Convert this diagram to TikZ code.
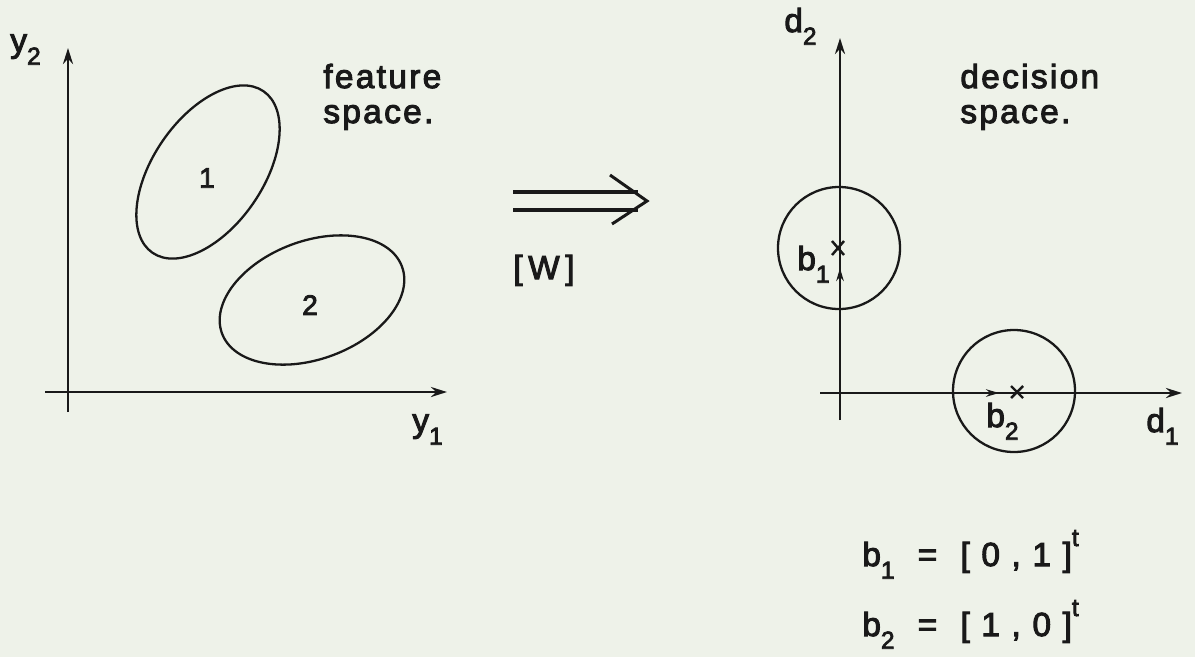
\documentclass[tikz,border=0pt]{standalone}
\usepackage{fontspec}
\setmainfont{Liberation Sans}[LetterSpace=7,FakeBold=3]
\usetikzlibrary{arrows.meta}
\definecolor{paper}{RGB}{238,242,233}
\definecolor{ink}{RGB}{25,25,25}
\newcommand{\lsub}[1]{\raisebox{-0.38em}{\fontsize{14pt}{14pt}\selectfont #1}}
\newcommand{\lsup}[1]{\raisebox{0.6em}{\fontsize{14pt}{14pt}\selectfont #1}}
\begin{document}
\begin{tikzpicture}[x=0.02cm,y=-0.02cm,
  axis/.style={ink,line width=1.5pt,-{Stealth[length=0.32cm,width=0.2cm]}},
  blob/.style={ink,line width=1.3pt},
  vec/.style={ink,line width=1.2pt,-{Stealth[length=0.26cm,width=0.15cm]}},
  lab/.style={ink,inner sep=0pt,anchor=base west,font=\fontsize{19pt}{19pt}\selectfont},
  num/.style={ink,inner sep=0pt,font=\fontsize{16pt}{16pt}\selectfont},
  cross/.style={ink,line width=1.4pt}]
\fill[paper] (0,0) rectangle (1195,657);
\useasboundingbox (0,0) rectangle (1195,657);
% left axes
\coordinate (O1v) at (68,412);
\coordinate (T1v) at (68,48);
\coordinate (O1h) at (45,392);
\coordinate (T1h) at (447,392);
\draw[axis] (O1v) -- (T1v);
\draw[axis] (O1h) -- (T1h);
\node[lab] (y2) at (10,52) {y\lsub{2}};
\node[lab] (y1) at (412,432) {y\lsub{1}};
% ellipses
\coordinate (E1) at (208,172);
\coordinate (E2) at (312,300);
\draw[blob,rotate around={55.5:(E1)}] (E1) ellipse [x radius=98, y radius=55];
\draw[blob,rotate around={20.4:(E2)}] (E2) ellipse [x radius=96, y radius=59];
\node[num] (n1) at (207,178) {1};
\node[num] (n2) at (310,305) {2};
\node[lab] (fs1) at (323,88) {feature};
\node[lab] (fs2) at (323,123) {space.};
% transform arrow
\coordinate (A1s) at (513,192);
\coordinate (A1e) at (638,192);
\coordinate (A2s) at (513,210);
\coordinate (A2e) at (638,210);
\coordinate (Ctop) at (610,175);
\coordinate (Ctip) at (647,201);
\coordinate (Cbot) at (612,224);
\draw[ink,line width=2.3pt] (A1s) -- (A1e);
\draw[ink,line width=2.3pt] (A2s) -- (A2e);
\draw[ink,line width=1.7pt,line join=miter] (Ctop) -- (Ctip) -- (Cbot);
\node[lab] (W) at (513,279) {[\,W\,]};
% right axes
\coordinate (O2) at (840,393);
\coordinate (O2v) at (840,420);
\coordinate (T2v) at (840,38);
\coordinate (O2h) at (820,393);
\coordinate (T2h) at (1182,393);
\draw[axis] (O2v) -- (T2v);
\draw[axis] (O2h) -- (T2h);
\node[lab] (d2) at (784,32) {d\lsub{2}};
\node[lab] (d1) at (1146,432) {d\lsub{1}};
\node[lab] (ds1) at (960,88) {decision};
\node[lab] (ds2) at (960,123) {space.};
% class circles
\coordinate (C1) at (839,248);
\coordinate (C2) at (1014,391);
\draw[blob] (C1) circle [radius=61];
\draw[blob] (C2) circle [radius=61];
% vectors
\coordinate (B1) at (840,268);
\coordinate (B2) at (999,393);
\draw[vec] (O2) -- (B1);
\draw[vec] (O2) -- (B2);
\draw[cross] (832,241) -- (844,255) (844,241) -- (832,255);
\draw[cross] (1011,386) -- (1023,398) (1023,386) -- (1011,398);
\node[lab] (b1) at (797,270) {b\lsub{1}};
\node[lab] (b2) at (986,427) {b\lsub{2}};
% equations
\node[lab] (eq1) at (862,566) {b\lsub{1} \ = \ [ 0 , 1 ]\lsup{t}};
\node[lab] (eq2) at (862,636) {b\lsub{2} \ = \ [ 1 , 0 ]\lsup{t}};
\end{tikzpicture}
\end{document}
